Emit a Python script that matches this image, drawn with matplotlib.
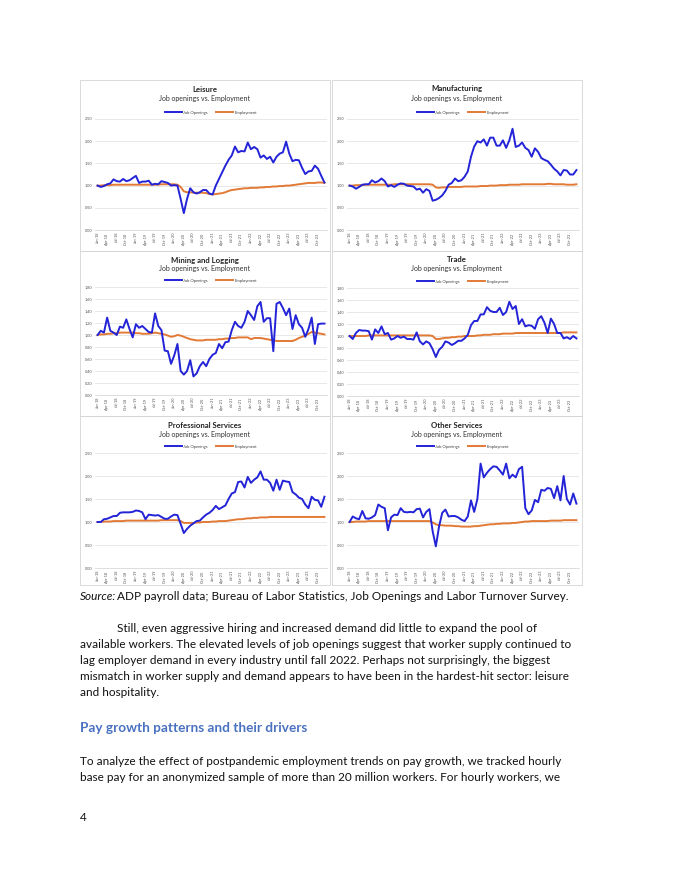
import matplotlib
matplotlib.use("Agg")
import matplotlib.pyplot as plt
from matplotlib.patches import Rectangle

plt.rcParams['font.family'] = ['Lato', 'DejaVu Sans']

W, H = 680, 880

months = list(range(72))
tick_pos = list(range(0, 72, 3))
tick_labels = ['Jan-18', 'Apr-18', 'Jul-18', 'Oct-18', 'Jan-19', 'Apr-19', 'Jul-19', 'Oct-19',
               'Jan-20', 'Apr-20', 'Jul-20', 'Oct-20', 'Jan-21', 'Apr-21', 'Jul-21', 'Oct-21',
               'Jan-22', 'Apr-22', 'Jul-22', 'Oct-22', 'Jan-23', 'Apr-23', 'Jul-23', 'Oct-23']

leisure_jobs = [1.00, 0.97, 0.99, 1.03, 1.05, 1.14, 1.10, 1.09, 1.15, 1.10, 1.12, 1.17,
                1.22, 1.06, 1.09, 1.09, 1.11, 1.02, 1.04, 1.03, 1.10, 1.08, 1.06, 1.00,
                1.01, 1.00, 0.70, 0.38, 0.70, 0.94, 0.85, 0.82, 0.85, 0.90, 0.90, 0.82,
                0.80, 1.00, 1.15, 1.30, 1.45, 1.58, 1.68, 1.88, 1.75, 1.78, 1.77, 1.97,
                1.82, 1.87, 1.82, 1.63, 1.68, 1.60, 1.65, 1.52, 1.65, 1.72, 1.75, 1.99,
                1.72, 1.55, 1.58, 1.57, 1.40, 1.26, 1.32, 1.33, 1.45, 1.38, 1.22, 1.07]
leisure_emp = [1.00, 1.00, 1.01, 1.01, 1.01, 1.02, 1.02, 1.02, 1.02, 1.02, 1.02, 1.02,
               1.02, 1.02, 1.02, 1.02, 1.02, 1.02, 1.02, 1.02, 1.03, 1.03, 1.03, 1.03,
               1.03, 1.02, 0.97, 0.87, 0.85, 0.85, 0.84, 0.84, 0.84, 0.84, 0.83, 0.81,
               0.80, 0.81, 0.82, 0.83, 0.85, 0.88, 0.90, 0.91, 0.92, 0.93, 0.94, 0.94,
               0.95, 0.95, 0.95, 0.96, 0.96, 0.97, 0.97, 0.98, 0.98, 0.99, 0.99, 1.00,
               1.00, 1.01, 1.02, 1.03, 1.04, 1.05, 1.06, 1.06, 1.06, 1.07, 1.07, 1.06]

manuf_jobs = [1.00, 0.98, 0.93, 0.97, 1.02, 1.03, 1.03, 1.12, 1.07, 1.10, 1.16, 1.10,
              0.98, 1.01, 0.97, 1.02, 1.05, 1.04, 1.00, 0.99, 0.98, 0.91, 0.93, 0.84,
              0.92, 0.88, 0.66, 0.68, 0.72, 0.78, 0.88, 1.02, 1.06, 1.16, 1.10, 1.12,
              1.20, 1.32, 1.65, 1.88, 2.00, 1.97, 2.04, 1.90, 2.08, 2.08, 1.90, 1.90,
              2.02, 1.85, 2.02, 2.28, 1.87, 1.90, 1.97, 1.85, 1.80, 1.65, 1.84, 1.76,
              1.62, 1.58, 1.55, 1.47, 1.38, 1.32, 1.23, 1.35, 1.34, 1.25, 1.25, 1.35]
manuf_emp = [1.00, 1.00, 1.01, 1.01, 1.01, 1.02, 1.02, 1.02, 1.02, 1.02, 1.02, 1.02,
             1.02, 1.02, 1.03, 1.03, 1.03, 1.03, 1.03, 1.03, 1.03, 1.03, 1.03, 1.03,
             1.03, 1.03, 1.02, 0.96, 0.95, 0.96, 0.96, 0.97, 0.97, 0.97, 0.97, 0.97,
             0.98, 0.98, 0.98, 0.98, 0.98, 0.99, 0.99, 0.99, 1.00, 1.00, 1.00, 1.01,
             1.01, 1.01, 1.02, 1.02, 1.02, 1.02, 1.03, 1.03, 1.03, 1.03, 1.03, 1.03,
             1.03, 1.03, 1.04, 1.04, 1.03, 1.03, 1.03, 1.03, 1.02, 1.02, 1.02, 1.03]

mining_jobs = [1.00, 1.07, 1.04, 1.29, 1.07, 1.04, 1.00, 1.14, 1.12, 1.26, 1.10, 0.96,
               1.18, 1.12, 1.15, 1.10, 1.05, 1.04, 1.36, 1.15, 1.08, 0.74, 0.73, 0.52,
               0.66, 0.85, 0.40, 0.34, 0.40, 0.58, 0.31, 0.36, 0.48, 0.55, 0.48, 0.60,
               0.67, 0.70, 0.85, 0.78, 0.88, 0.89, 1.08, 1.22, 1.15, 1.12, 1.22, 1.40,
               1.33, 1.25, 1.48, 1.55, 1.22, 1.28, 1.28, 0.73, 1.52, 1.55, 1.45, 1.33,
               1.44, 1.10, 1.33, 1.18, 1.12, 0.97, 1.10, 1.29, 0.85, 1.18, 1.19, 1.19]
mining_emp = [1.00, 1.01, 1.01, 1.02, 1.02, 1.03, 1.03, 1.04, 1.04, 1.04, 1.04, 1.04,
              1.03, 1.03, 1.02, 1.02, 1.02, 1.03, 1.04, 1.03, 1.02, 1.01, 0.99, 0.97,
              0.98, 1.00, 0.99, 0.97, 0.95, 0.93, 0.92, 0.91, 0.91, 0.91, 0.92, 0.92,
              0.92, 0.92, 0.93, 0.93, 0.94, 0.94, 0.95, 0.95, 0.96, 0.96, 0.96, 0.96,
              0.93, 0.95, 0.95, 0.95, 0.94, 0.93, 0.92, 0.91, 0.90, 0.90, 0.90, 0.90,
              0.90, 0.90, 0.92, 0.95, 0.97, 0.99, 1.02, 1.05, 1.04, 1.03, 1.02, 1.01]

trade_jobs = [1.00, 0.95, 1.05, 1.10, 1.09, 1.09, 1.08, 0.94, 1.11, 1.05, 1.16, 1.03,
              1.05, 0.94, 0.96, 1.00, 0.97, 0.99, 0.95, 0.95, 0.94, 1.06, 0.91, 0.86,
              0.91, 0.88, 0.78, 0.65, 0.77, 0.82, 0.91, 0.89, 0.85, 0.88, 0.92, 0.92,
              0.96, 1.02, 1.18, 1.25, 1.25, 1.36, 1.36, 1.48, 1.42, 1.40, 1.40, 1.47,
              1.35, 1.40, 1.57, 1.45, 1.50, 1.20, 1.28, 1.16, 1.18, 1.17, 1.12, 1.28,
              1.33, 1.22, 1.05, 1.29, 1.20, 1.05, 1.05, 0.96, 0.98, 0.95, 1.00, 0.96]
trade_emp = [1.00, 1.00, 1.00, 1.00, 1.00, 1.00, 1.01, 1.01, 1.01, 1.01, 1.01, 1.01,
             1.01, 1.01, 1.01, 1.01, 1.01, 1.01, 1.01, 1.01, 1.01, 1.01, 1.01, 1.01,
             1.01, 1.01, 1.00, 0.95, 0.95, 0.96, 0.97, 0.97, 0.98, 0.98, 0.99, 0.99,
             1.00, 1.00, 1.00, 1.00, 1.01, 1.01, 1.02, 1.02, 1.02, 1.03, 1.03, 1.03,
             1.04, 1.04, 1.04, 1.04, 1.05, 1.05, 1.05, 1.05, 1.05, 1.05, 1.05, 1.05,
             1.05, 1.05, 1.05, 1.05, 1.05, 1.05, 1.05, 1.06, 1.06, 1.06, 1.06, 1.06]

prof_jobs = [1.00, 1.00, 1.06, 1.07, 1.10, 1.13, 1.13, 1.20, 1.21, 1.21, 1.21, 1.22,
             1.25, 1.24, 1.21, 1.06, 1.16, 1.15, 1.14, 1.15, 1.11, 1.07, 1.07, 1.12,
             1.16, 1.15, 0.96, 0.76, 0.85, 0.92, 0.97, 1.02, 1.03, 1.10, 1.16, 1.20,
             1.26, 1.35, 1.28, 1.32, 1.36, 1.50, 1.62, 1.65, 1.87, 1.88, 1.75, 1.98,
             1.85, 1.92, 1.97, 2.10, 1.92, 1.92, 1.85, 1.68, 1.92, 1.70, 1.90, 1.88,
             1.87, 1.65, 1.60, 1.53, 1.50, 1.38, 1.30, 1.55, 1.48, 1.47, 1.33, 1.55]
prof_emp = [1.00, 1.00, 1.01, 1.01, 1.01, 1.02, 1.02, 1.02, 1.02, 1.03, 1.03, 1.03,
            1.03, 1.03, 1.03, 1.03, 1.03, 1.03, 1.03, 1.03, 1.04, 1.04, 1.04, 1.04,
            1.04, 1.04, 1.02, 0.98, 0.98, 0.98, 0.98, 0.99, 0.99, 1.00, 1.00, 1.00,
            1.01, 1.01, 1.02, 1.02, 1.02, 1.03, 1.04, 1.05, 1.06, 1.06, 1.07, 1.08,
            1.08, 1.09, 1.09, 1.10, 1.10, 1.10, 1.11, 1.11, 1.11, 1.11, 1.11, 1.11,
            1.11, 1.11, 1.11, 1.11, 1.11, 1.11, 1.11, 1.11, 1.11, 1.11, 1.11, 1.11]

other_jobs = [1.00, 1.12, 1.08, 1.06, 1.24, 1.08, 1.07, 1.10, 1.15, 1.38, 1.33, 1.30,
              0.82, 1.10, 1.16, 1.15, 1.30, 1.22, 1.21, 1.22, 1.21, 1.28, 1.29, 1.10,
              1.22, 1.28, 0.80, 0.47, 0.90, 1.20, 1.27, 1.12, 1.13, 1.13, 1.10, 1.05,
              1.02, 1.12, 1.47, 1.22, 1.50, 2.27, 1.97, 2.07, 2.15, 2.21, 2.20, 2.12,
              2.03, 2.27, 1.95, 2.03, 1.97, 2.15, 2.20, 1.30, 1.17, 1.25, 1.48, 1.43,
              1.70, 1.68, 1.74, 1.72, 1.52, 1.78, 1.47, 2.00, 1.50, 1.38, 1.62, 1.40]
other_emp = [1.00, 1.00, 1.01, 1.01, 1.01, 1.01, 1.02, 1.02, 1.02, 1.02, 1.02, 1.02,
             1.02, 1.02, 1.02, 1.02, 1.02, 1.02, 1.02, 1.02, 1.02, 1.02, 1.02, 1.02,
             1.02, 1.02, 0.99, 0.95, 0.93, 0.93, 0.92, 0.92, 0.92, 0.91, 0.91, 0.90,
             0.90, 0.90, 0.90, 0.91, 0.91, 0.92, 0.93, 0.94, 0.95, 0.95, 0.96, 0.96,
             0.97, 0.97, 0.97, 0.98, 0.98, 0.99, 1.00, 1.01, 1.01, 1.02, 1.02, 1.02,
             1.02, 1.02, 1.02, 1.03, 1.03, 1.03, 1.03, 1.04, 1.04, 1.04, 1.04, 1.04]

yticks_wide = [0.0, 0.5, 1.0, 1.5, 2.0, 2.5]
yticks_narrow = [0.0, 0.2, 0.4, 0.6, 0.8, 1.0, 1.2, 1.4, 1.6, 1.8]

BLUE = '#2323d8'
ORANGE = '#e27a36'
GRID = '#dedede'

fig = plt.figure(figsize=(W / 100, H / 100), dpi=100)


def fx(x):
    return x / W


def fy(y):
    return 1 - y / H


def panel(box, title, jobs, emp, yticks, plot_top, plot_bot):
    x0, y0, x1, y1 = box
    fig.patches.append(Rectangle((fx(x0), fy(y1)), fx(x1 - x0), (y1 - y0) / H,
                                 transform=fig.transFigure, fill=False,
                                 edgecolor='#d4d4d4', lw=0.6))
    cx = (x0 + x1) / 2
    fig.text(fx(cx), fy(y0 + 9), title, ha='center', va='center',
             fontsize=5.6, fontweight='bold', color='#222222')
    fig.text(fx(cx), fy(y0 + 18), 'Job openings vs. Employment', ha='center',
             va='center', fontsize=5.0, color='#333333')
    left = x0 + 15
    right = x1 - 3
    ax = fig.add_axes([fx(left), fy(plot_bot), fx(right - left),
                       (plot_bot - plot_top) / H])
    ax.plot(months, jobs, color=BLUE, lw=1.4, label='Job Openings', zorder=3)
    ax.plot(months, emp, color=ORANGE, lw=1.4, label='Employment', zorder=2)
    ax.set_xlim(-0.8, 71.8)
    ax.set_ylim(yticks[0], yticks[-1])
    ax.set_yticks(yticks)
    ax.set_yticklabels(['%.2f' % v for v in yticks])
    ax.set_xticks(tick_pos)
    ax.set_xticklabels(tick_labels, rotation=90)
    ax.tick_params(axis='both', length=0, labelsize=2.8, colors='#555555', pad=2)
    ax.grid(axis='y', color=GRID, lw=0.5)
    for s in ['top', 'right', 'left']:
        ax.spines[s].set_visible(False)
    ax.spines['bottom'].set_color('#d0d0d0')
    ax.spines['bottom'].set_linewidth(0.5)
    leg = ax.legend(loc='lower center', bbox_to_anchor=(0.5, 1.0), ncol=2,
                    frameon=False, fontsize=3.0, handlelength=4.0,
                    columnspacing=2.0, handletextpad=0.4, borderaxespad=0.6)
    for t in leg.get_texts():
        t.set_color('#444444')
    return ax


panel((80, 80, 330, 251), 'Leisure', leisure_jobs, leisure_emp, yticks_wide, 119, 230)
panel((332, 80, 582, 251), 'Manufacturing', manuf_jobs, manuf_emp, yticks_wide, 119, 230)
panel((80, 251, 330, 416), 'Mining and Logging', mining_jobs, mining_emp, yticks_narrow, 287, 395)
panel((332, 251, 582, 416), 'Trade', trade_jobs, trade_emp, yticks_narrow, 288, 396)
panel((80, 416, 330, 585), 'Professional Services', prof_jobs, prof_emp, yticks_wide, 453, 568)
panel((332, 416, 582, 585), 'Other Services', other_jobs, other_emp, yticks_wide, 453, 568)

# page text below the charts
BODY = 8.5
TXT = '#111111'
fig.text(fx(80), fy(596), 'Source:', fontsize=BODY, style='italic', color=TXT, va='center')
fig.text(fx(117), fy(596), 'ADP payroll data; Bureau of Labor Statistics, Job Openings and Labor Turnover Survey.',
         fontsize=BODY, color=TXT, va='center')

para = [
    (117, 628, 'Still, even aggressive hiring and increased demand did little to expand the pool of'),
    (80, 644, 'available workers. The elevated levels of job openings suggest that worker supply continued to'),
    (80, 660, 'lag employer demand in every industry until fall 2022. Perhaps not surprisingly, the biggest'),
    (80, 677, 'mismatch in worker supply and demand appears to have been in the hardest-hit sector: leisure'),
    (80, 693, 'and hospitality.'),
    (80, 761, 'To analyze the effect of postpandemic employment trends on pay growth, we tracked hourly'),
    (80, 777, 'base pay for an anonymized sample of more than 20 million workers. For hourly workers, we'),
]
for x, y, s in para:
    fig.text(fx(x), fy(y), s, fontsize=BODY, color=TXT, va='center')

fig.text(fx(80), fy(728), 'Pay growth patterns and their drivers', fontsize=9.8,
         fontweight='bold', color='#4a72c0', va='center')
fig.text(fx(80), fy(817), '4', fontsize=BODY, color=TXT, va='center')

fig.savefig('out.png', dpi=100)
